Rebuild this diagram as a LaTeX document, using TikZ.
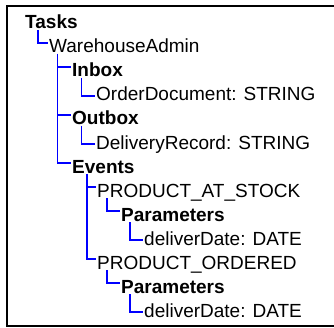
\documentclass[tikz,border=0pt]{standalone}
\usepackage{fontspec}
\setmainfont{Liberation Sans}
\usepackage{tikz}
\usetikzlibrary{positioning,calc}

\tikzset{
    item/.style={anchor=base west, inner sep=0pt, font=\fontsize{19pt}{23pt}\selectfont},
    head/.style={item, font=\fontsize{19pt}{23pt}\selectfont\bfseries},
    branch/.style={draw=blue, line width=1.3pt},
}

\begin{document}
\begin{tikzpicture}[x=1pt, y=1pt]
    \useasboundingbox (0,0) rectangle (334,327);
    \draw[line width=2pt] (7,1.5) rectangle (345,321);

    % tree entries, one row every 24pt
    \node[head] (tasks)   at (25,298) {Tasks};
    \node[item] (wadmin)  at (49,274) {WarehouseAdmin};
    \node[head] (inbox)   at (72,250) {Inbox};
    \node[item] (orderdoc) at (96,226) {OrderDocument: STRING};
    \node[head] (outbox)  at (72,202) {Outbox};
    \node[item] (delrec)  at (96,178) {DeliveryRecord: STRING};
    \node[head] (events)  at (72,154) {Events};
    \node[item] (atstock) at (97,130) {PRODUCT\_AT\_STOCK};
    \node[head] (paramsA) at (121,106) {Parameters};
    \node[item] (dateA)   at (144,82) {deliverDate: DATE};
    \node[item] (ordered) at (97,58) {PRODUCT\_ORDERED};
    \node[head] (paramsB) at (121,34) {Parameters};
    \node[item] (dateB)   at (144,10) {deliverDate: DATE};

    % elbow connectors parent -> child
    \foreach \p/\c/\dx/\dy in {tasks/wadmin/13/10, wadmin/inbox/8.5/10,
        wadmin/outbox/8.5/10, wadmin/events/8.5/10, inbox/orderdoc/9.5/5,
        outbox/delrec/9.5/5, events/atstock/15/10, events/ordered/15/10,
        atstock/paramsA/10/10, paramsA/dateA/9/5, ordered/paramsB/10/10,
        paramsB/dateB/9/5}
        \draw[branch] ([xshift=\dx pt, yshift=-1pt]\p.base west) |- ([xshift=-1pt, yshift=\dy pt]\c.base west);
\end{tikzpicture}
\end{document}
